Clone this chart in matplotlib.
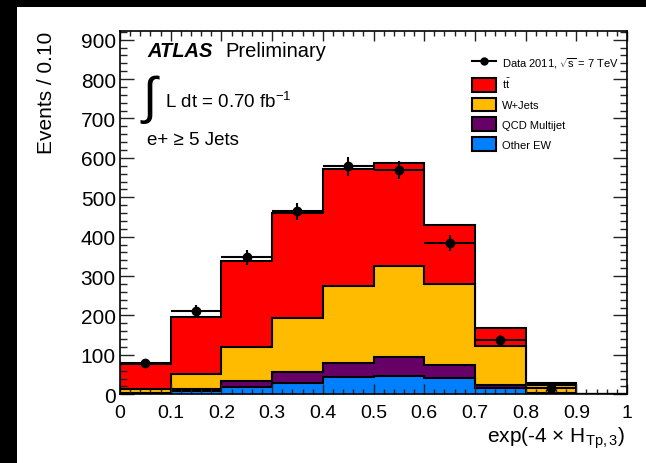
import matplotlib
matplotlib.use("Agg")
import matplotlib.pyplot as plt
import numpy as np
from matplotlib.lines import Line2D
from matplotlib.patches import Patch, Rectangle
from matplotlib.ticker import MultipleLocator

plt.rcParams['font.family'] = ['Liberation Sans', 'DejaVu Sans']
plt.rcParams['mathtext.fontset'] = 'custom'
plt.rcParams['mathtext.rm'] = 'Liberation Sans'
plt.rcParams['mathtext.it'] = 'Liberation Sans:italic'
plt.rcParams['mathtext.bf'] = 'Liberation Sans:bold'

# binning of exp(-4 x H_Tp,3)
edges = np.linspace(0.0, 1.0, 11)

# expected yields per process (events / 0.10)
other_ew = [1, 8, 18, 29, 45, 46, 42, 16, 1, 0]
qcd = [1.5, 5, 15, 27, 34, 49, 32, 8, 1.5, 0]
wjets = [10.5, 38, 88, 138, 197, 231, 207, 98, 21.5, 0]
ttbar = [65, 146, 217, 266, 296, 261, 149, 46, 4, 0]

# observed data
data_counts = [79, 211, 348, 465, 579, 569, 384, 138, 16]

process_names = ["Other EW", "QCD Multijet", "W+Jets", r"$\mathrm{t\bar{t}}$"]
process_colors = ["#0080ff", "#660066", "#ffbb00", "#ff0000"]

W, H = 646, 464
fig = plt.figure(figsize=(W / 100, H / 100), dpi=100)
fig.patch.set_facecolor("black")
fig.add_artist(Rectangle((17 / W, 0), 1 - 17 / W, (H - 8) / H,
                         transform=fig.transFigure, facecolor="white",
                         edgecolor="none", zorder=-10))

ax = fig.add_axes([120 / W, 1 - 395.3 / H, 507 / W, 363.3 / H])

# stacked histogram, drawn from the total down
stack = np.cumsum([other_ew, qcd, wjets, ttbar], axis=0)
for tops, col in reversed(list(zip(stack, process_colors))):
    ax.stairs(tops, edges, baseline=0, fill=True, facecolor=col,
              edgecolor="black", linewidth=1.5, zorder=1)

centers = 0.5 * (edges[:-1] + edges[1:])
n_data = len(data_counts)
ax.errorbar(centers[:n_data], data_counts, yerr=np.sqrt(data_counts),
            xerr=0.05, fmt="o", color="black", ms=6, lw=1.5, capsize=0,
            zorder=3)

ax.set_xlim(0, 1)
ax.set_ylim(0, 922)
ax.set_axisbelow(False)
ax.xaxis.set_minor_locator(MultipleLocator(0.02))
ax.yaxis.set_minor_locator(MultipleLocator(20))
ax.set_xticks(np.linspace(0, 1, 11))
ax.set_xticklabels(["0", "0.1", "0.2", "0.3", "0.4", "0.5", "0.6", "0.7", "0.8", "0.9", "1"])
ax.set_yticks(np.arange(0, 901, 100))
ax.tick_params(which="both", direction="in", top=True, right=True, width=1, color="#222222")
ax.tick_params(axis="y", which="major", length=10, pad=3, labelsize=15)
ax.tick_params(axis="y", which="minor", length=5)
ax.tick_params(axis="x", which="major", length=7, pad=7, labelsize=14)
ax.tick_params(axis="x", which="minor", length=3.5)
for sp in ax.spines.values():
    sp.set_linewidth(1.2)
    sp.set_zorder(5)


def fy(py):
    return 1 - py / H


fig.text(46 / W, fy(32), "Events / 0.10", rotation=90, ha="center", va="top", fontsize=15)
fig.text(625 / W, fy(443), r"exp(-4 $\times$ H$_{\mathrm{Tp,3}}$)", ha="right",
         va="baseline", fontsize=15)

fig.text(147 / W, fy(57), "ATLAS", fontsize=14.5, fontweight="bold", fontstyle="italic",
         va="baseline")
fig.text(225 / W, fy(57), "Preliminary", fontsize=14.5, va="baseline")
fig.text(142 / W, fy(100), "\u222b", fontsize=37, va="center", ha="left")
fig.text(165 / W, fy(108), r"L dt = 0.70 fb$^{\mathrm{-1}}$", fontsize=13.5, va="baseline")
fig.text(147 / W, fy(145), "e+ \u2265 5 Jets", fontsize=13.5, va="baseline")

handles = [Line2D([], [], color="black", marker="o", ms=5, lw=1.5)]
labels = [r"Data 2011, $\sqrt{\mathrm{s}}$ = 7 TeV"]
for name, col in reversed(list(zip(process_names, process_colors))):
    handles.append(Patch(facecolor=col, edgecolor="black", linewidth=1.5))
    labels.append(name)
ax.legend(handles, labels, loc="upper left", bbox_to_anchor=(472 / W, fy(56.5)),
          bbox_transform=fig.transFigure, frameon=False, fontsize=8,
          borderpad=0, borderaxespad=0, handlelength=2.2, handleheight=1.53,
          labelspacing=0.54, handletextpad=0.5)

fig.savefig("out.png", dpi=100, facecolor=fig.get_facecolor())
